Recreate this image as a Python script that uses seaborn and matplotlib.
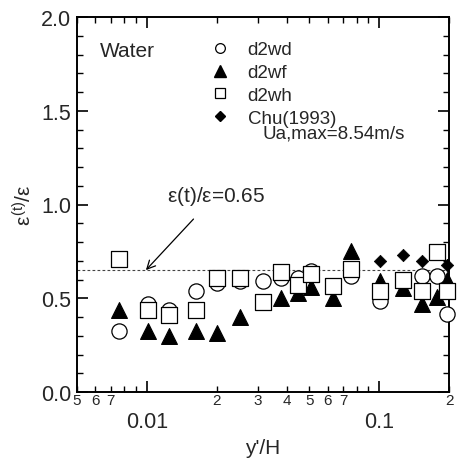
import numpy as np
import pandas as pd
import matplotlib
matplotlib.use("Agg")
import matplotlib.pyplot as plt
from matplotlib.ticker import FixedLocator, FixedFormatter, MultipleLocator
from matplotlib.lines import Line2D
import seaborn as sns

sns.set_theme(style="ticks")
plt.rcParams["font.family"] = ["Liberation Sans", "DejaVu Sans"]
plt.rcParams["mathtext.fontset"] = "custom"
plt.rcParams["mathtext.rm"] = "Liberation Sans"
plt.rcParams["mathtext.it"] = "Liberation Sans"

# d2wd (open circles)
wd_x = [0.0076, 0.0101, 0.0125, 0.0162, 0.0201, 0.0252, 0.0316, 0.0378, 0.0447,
        0.0508, 0.076, 0.101, 0.153, 0.177, 0.197]
wd_y = [0.325, 0.47, 0.44, 0.54, 0.58, 0.59, 0.59, 0.61, 0.61,
        0.645, 0.62, 0.485, 0.62, 0.62, 0.415]

# d2wf (filled triangles)
wf_x = [0.0076, 0.0101, 0.0125, 0.0162, 0.0201, 0.0252, 0.0378, 0.0447, 0.0508,
        0.063, 0.076, 0.101, 0.127, 0.153, 0.177, 0.197]
wf_y = [0.437, 0.325, 0.30, 0.325, 0.315, 0.40, 0.50, 0.53, 0.56,
        0.50, 0.75, 0.59, 0.555, 0.47, 0.505, 0.60]

# d2wh (open squares)
wh_x = [0.0076, 0.0101, 0.0125, 0.0162, 0.0201, 0.0252, 0.0316, 0.0378, 0.0447,
        0.0508, 0.063, 0.076, 0.101, 0.127, 0.153, 0.177, 0.197]
wh_y = [0.71, 0.44, 0.41, 0.44, 0.61, 0.61, 0.48, 0.64, 0.57,
        0.63, 0.565, 0.655, 0.54, 0.60, 0.54, 0.745, 0.54]

# Chu (1993) (filled diamonds)
chu_x = [0.101, 0.127, 0.153, 0.197]
chu_y = [0.70, 0.73, 0.70, 0.68]

ratio_level = 0.65

fig = plt.figure(figsize=(4.59, 4.64), dpi=100)
ax = fig.add_axes([77 / 459, 71 / 464, 372 / 459, 375 / 464])

common = dict(ax=ax, legend=False, zorder=3, clip_on=False)
sns.scatterplot(x=wf_x, y=wf_y, marker="^", s=130, color="black",
                edgecolor="black", linewidth=0.8, **common)
sns.scatterplot(x=wd_x, y=wd_y, marker="o", s=120, color="white",
                edgecolor="black", linewidth=0.9, **common)
sns.scatterplot(x=wh_x, y=wh_y, marker="s", s=120, color="white",
                edgecolor="black", linewidth=0.9, **common)
sns.scatterplot(x=chu_x, y=chu_y, marker="D", s=40, color="black",
                edgecolor="black", linewidth=0.5, **common)

ax.axhline(ratio_level, color="#444444", linestyle=(0, (2.5, 2)), linewidth=0.8, zorder=1)

ax.set_xscale("log")
ax.set_xlim(0.005, 0.2)
ax.set_ylim(0.0, 2.0)

# x ticks: decades labelled large, selected minors labelled small
ax.xaxis.set_major_locator(FixedLocator([0.01, 0.1]))
ax.xaxis.set_major_formatter(FixedFormatter(["0.01", "0.1"]))
minor_pos = [0.005, 0.006, 0.007, 0.008, 0.009,
             0.02, 0.03, 0.04, 0.05, 0.06, 0.07, 0.08, 0.09, 0.2]
minor_lab = ["5", "6", "7", "", "",
             "2", "3", "4", "5", "6", "7", "", "", "2"]
ax.xaxis.set_minor_locator(FixedLocator(minor_pos))
ax.xaxis.set_minor_formatter(FixedFormatter(minor_lab))

ax.yaxis.set_major_locator(MultipleLocator(0.5))
ax.yaxis.set_minor_locator(MultipleLocator(0.1))
ax.yaxis.set_major_formatter(plt.FuncFormatter(lambda v, p: f"{v:.1f}"))

ax.tick_params(which="both", direction="in", top=True, right=True, color="black")
ax.tick_params(axis="y", which="major", length=8, width=1.2, labelsize=15.5, pad=4)
ax.tick_params(axis="y", which="minor", length=4, width=1.0)
ax.tick_params(axis="x", which="major", length=8, width=1.2, labelsize=15.5, pad=14)
ax.tick_params(axis="x", which="minor", length=4, width=1.0, labelsize=11, pad=1)

for sp in ax.spines.values():
    sp.set_linewidth(1.4)
    sp.set_color("black")

ax.set_xlabel("y'/H", fontsize=15, labelpad=4)
ax.set_ylabel(r"$\varepsilon^{\rm (t)}/\varepsilon$", fontsize=15, labelpad=4)

ax.text(0.062, 0.91, "Water", transform=ax.transAxes, fontsize=15,
        ha="left", va="center")

handles = [
    Line2D([], [], linestyle="none", marker="o", markersize=7, markerfacecolor="white",
           markeredgecolor="black", markeredgewidth=0.9),
    Line2D([], [], linestyle="none", marker="^", markersize=8, markerfacecolor="black",
           markeredgecolor="black"),
    Line2D([], [], linestyle="none", marker="s", markersize=7, markerfacecolor="white",
           markeredgecolor="black", markeredgewidth=0.9),
    Line2D([], [], linestyle="none", marker="D", markersize=5, markerfacecolor="black",
           markeredgecolor="black"),
]
labels = ["d2wd", "d2wf", "d2wh", "Chu(1993)"]
ax.legend(handles, labels, loc="upper left", bbox_to_anchor=(0.325, 0.97),
          frameon=False, fontsize=13.5, handlelength=1.0, handletextpad=0.95,
          labelspacing=0.3, borderpad=0.2)
ax.text(0.50, 0.69, "Ua,max=8.54m/s", transform=ax.transAxes, fontsize=13.5,
        ha="left", va="center")

ax.annotate(r"$\rm \varepsilon(t)/\varepsilon$=0.65", xy=(0.0099, ratio_level),
            xytext=(0.0198, 1.05), fontsize=15, ha="center", va="center",
            arrowprops=dict(arrowstyle="->", color="black", lw=0.9,
                            shrinkA=9, shrinkB=0))

fig.savefig("out.png", dpi=100)
